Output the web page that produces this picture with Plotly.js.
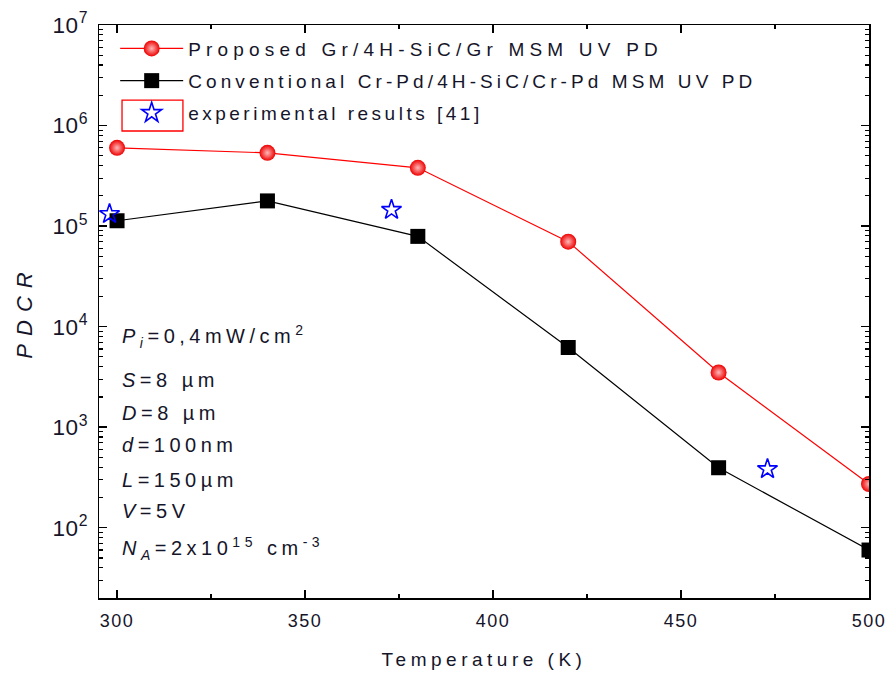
<!DOCTYPE html>
<html>
<head>
<meta charset="utf-8">
<script src="https://cdn.plot.ly/plotly-3.0.1.min.js"></script>
<style>
  body { margin: 0; background: #fff; }
  #chart { width: 885px; height: 675px; }
  .xtick text { letter-spacing: 1.5px; }
  .ytick text { letter-spacing: 0.5px; }
  .legend .scrollbox { clip-path: none !important; }
  .legendtext { letter-spacing: 3.5px; }
  .legend g.groups:nth-child(1) .legendtext { letter-spacing: 5.2px; }
  .legend g.groups:nth-child(2) .legendtext { letter-spacing: 4.1px; }
  .legend g.groups:nth-child(3) .legendtext { letter-spacing: 3.5px; }
  .xtitle { letter-spacing: 4.5px; }
  .ytitle { letter-spacing: 8px; }
  .annotation-text { letter-spacing: 4.5px; }
</style>
</head>
<body>
<div id="chart"></div>
<script>
// Temperature (K)
const temps = [300, 340, 380, 420, 460, 500];
// PDCR, proposed Gr/4H-SiC/Gr MSM UV PD
const proposed = [6.0e5, 5.35e5, 3.8e5, 7.0e4, 3.5e3, 272];
// PDCR, conventional Cr-Pd/4H-SiC/Cr-Pd MSM UV PD
const conventional = [1.13e5, 1.78e5, 7.9e4, 6.2e3, 395, 60];
// experimental results [41]
const expT = [298, 373, 473];
const expV = [1.32e5, 1.45e5, 383];

const seriesNames = [
  'Proposed Gr/4H-SiC/Gr MSM UV PD',
  'Conventional Cr-Pd/4H-SiC/Cr-Pd MSM UV PD',
  'experimental results [41]'
];

const paramLines = [
  '<i>P<sub>i</sub></i>=0,4mW/cm<sup>2</sup>',
  '<i>S</i>=8 µm',
  '<i>D</i>=8 µm',
  '<i>d</i>=100nm',
  '<i>L</i>=150µm',
  '<i>V</i>=5V',
  '<i>N<sub>A</sub></i>=2x10<sup>15</sup> cm<sup>-3</sup>'
];
const paramY = [0.457, 0.380, 0.323, 0.267, 0.206, 0.152, 0.087];

const FONT = 'Liberation Sans, Arial, sans-serif';
const TXT = '#15152a';

const traces = [
  {
    x: temps, y: proposed, name: seriesNames[0], type: 'scatter', mode: 'lines+markers',
    line: { color: '#ff0000', width: 1.2 },
    marker: { symbol: 'circle', size: 16, color: '#ee0000',
      gradient: { type: 'radial', color: '#ffb8b8' }, line: { width: 0 } },
    legendgroup: 'a'
  },
  {
    x: temps, y: conventional, name: seriesNames[1], type: 'scatter', mode: 'lines+markers',
    line: { color: '#000000', width: 1.2 },
    marker: { symbol: 'square', size: 15, color: '#000000', line: { width: 0 } },
    legendgroup: 'b'
  },
  {
    x: expT, y: expV, name: seriesNames[2], type: 'scatter', mode: 'markers',
    marker: { symbol: 'star-open', size: 15, color: '#0000ff', line: { width: 1.6, color: '#0000ff' } },
    legendgroup: 'c'
  }
];

const layout = {
  width: 885, height: 675,
  margin: { l: 99, r: 16, t: 25, b: 77 },
  paper_bgcolor: '#ffffff', plot_bgcolor: '#ffffff',
  font: { family: FONT, color: TXT, size: 18 },
  showlegend: true,
  legend: {
    x: 0.021, y: 0.992, xanchor: 'left', yanchor: 'top',
    bgcolor: 'rgba(0,0,0,0)', borderwidth: 0,
    font: { family: FONT, size: 19, color: TXT },
    itemwidth: 63, traceorder: 'grouped', tracegroupgap: 4.5
  },
  xaxis: {
    range: [295.2, 500], tick0: 300, dtick: 50,
    ticks: 'inside', ticklen: 8, tickwidth: 1.5, tickcolor: '#000',
    showline: true, linecolor: '#000', linewidth: 1.5, mirror: 'ticks',
    showgrid: false, zeroline: false, ticklabeloverflow: 'allow',
    ticklabelstandoff: 6,
    minor: { dtick: 25, ticks: 'inside', ticklen: 4, tickwidth: 1.2, tickcolor: '#000', showgrid: false },
    tickfont: { family: FONT, size: 18, color: TXT },
    title: { text: 'Temperature (K)', font: { family: FONT, size: 19, color: TXT }, standoff: 22 }
  },
  yaxis: {
    type: 'log', range: [Math.log10(20), 7], dtick: 1,
    exponentformat: 'power', showexponent: 'all',
    ticks: 'inside', ticklen: 8, tickwidth: 1.5, tickcolor: '#000',
    showline: true, linecolor: '#000', linewidth: 1.5, mirror: 'ticks',
    showgrid: false, zeroline: false, ticklabelstandoff: 6,
    minor: { dtick: 'D1', ticks: 'inside', ticklen: 4, tickwidth: 1.2, tickcolor: '#000', showgrid: false },
    tickfont: { family: FONT, size: 18, color: TXT },
    title: { text: '<i>PDCR</i>', font: { family: FONT, size: 22, color: TXT }, standoff: 14 }
  },
  shapes: [
    { type: 'rect', xref: 'paper', yref: 'paper',
      x0: 0.0299, x1: 0.109, y0: 0.815, y1: 0.869,
      line: { color: '#ff0000', width: 1.3 }, fillcolor: 'rgba(0,0,0,0)' }
  ],
  annotations: paramLines.map((t, i) => ({
    text: t, xref: 'paper', yref: 'paper', x: 0.027, y: paramY[i],
    xanchor: 'left', yanchor: 'middle', showarrow: false,
    font: { family: FONT, size: 20, color: TXT }
  }))
};

Plotly.newPlot('chart', traces, layout, { displayModeBar: false, staticPlot: true });
</script>
</body>
</html>
